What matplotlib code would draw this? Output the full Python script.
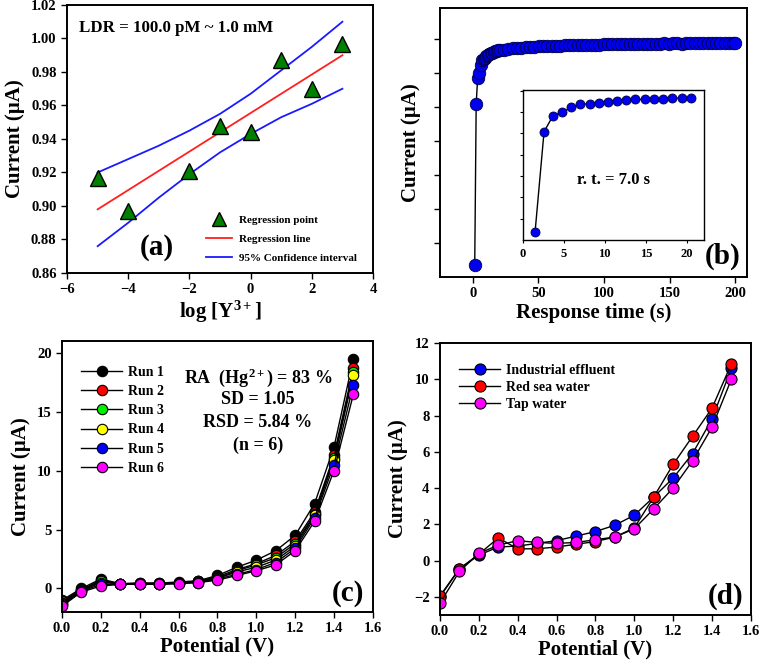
import numpy as np
import matplotlib
matplotlib.use("Agg")
import matplotlib.pyplot as plt
from matplotlib.lines import Line2D

plt.rcParams['font.family'] = ['Liberation Serif', 'DejaVu Serif']
plt.rcParams['font.weight'] = 'bold'
plt.rcParams['axes.labelweight'] = 'bold'
plt.rcParams['mathtext.fontset'] = 'custom'
plt.rcParams['mathtext.rm'] = 'Liberation Serif:bold'
plt.rcParams['mathtext.it'] = 'Liberation Serif:bold'
plt.rcParams['mathtext.bf'] = 'Liberation Serif:bold'

# ---------- Panel (a) data ----------
a_x = [-5, -4, -2, -1, 0, 1, 2, 3]
a_y = [0.917, 0.897, 0.921, 0.948, 0.944, 0.987, 0.970, 0.997]
a_line_x = [-5, 3]
a_line_y = [0.898, 0.990]
a_ci_x = [-5, -4, -3, -2, -1, 0, 1, 2, 3]
a_ci_upper = [0.920, 0.928, 0.936, 0.945, 0.955, 0.967, 0.981, 0.995, 1.010]
a_ci_lower = [0.876, 0.890, 0.905, 0.919, 0.932, 0.943, 0.953, 0.961, 0.970]

# ---------- Panel (b) data ----------
b_inset_t = [1.5, 2.6, 3.7, 4.8, 5.9, 7.0, 8.2, 9.3, 10.4, 11.5, 12.6, 13.7,
             14.9, 16.0, 17.1, 18.2, 19.4, 20.5]
b_inset_i = [0.36, 5.08, 5.83, 5.98, 6.22, 6.36, 6.39, 6.44, 6.48, 6.53, 6.56,
             6.59, 6.59, 6.61, 6.63, 6.64, 6.66, 6.66]
b_late_t = np.round(np.arange(23.8, 200.0, 3.3), 1)
b_late_i = [6.68, 6.70, 6.71, 6.72, 6.73, 6.74, 6.75, 6.76, 6.77, 6.77,
            6.78, 6.78, 6.79, 6.79, 6.80, 6.80, 6.80, 6.81, 6.81, 6.81,
            6.82, 6.82, 6.82, 6.83, 6.83, 6.83, 6.84, 6.83, 6.84, 6.84,
            6.84, 6.85, 6.84, 6.85, 6.85, 6.85, 6.85, 6.86, 6.85, 6.86,
            6.86, 6.85, 6.86, 6.86, 6.86, 6.86, 6.87, 6.86, 6.86, 6.87,
            6.86, 6.86, 6.87, 6.86]
b_end_t = [200.0]
b_end_i = [6.86]

# ---------- Panel (c) data ----------
potential = [0.0, 0.1, 0.2, 0.3, 0.4, 0.5, 0.6, 0.7, 0.8, 0.9, 1.0, 1.1, 1.2, 1.3, 1.4, 1.5]
c_run1 = [-1.0, 0.0, 0.8, 0.4, 0.45, 0.45, 0.55, 0.65, 1.1, 1.8, 2.4, 3.2, 4.5, 7.2, 12.0, 19.5]
c_run2 = [-1.1, -0.1, 0.7, 0.4, 0.45, 0.45, 0.5, 0.6, 1.0, 1.6, 2.1, 2.8, 4.0, 6.5, 11.3, 18.7]
c_run3 = [-1.2, -0.15, 0.6, 0.4, 0.4, 0.4, 0.5, 0.6, 0.9, 1.5, 2.0, 2.6, 3.8, 6.3, 11.1, 18.4]
c_run4 = [-1.3, -0.2, 0.5, 0.4, 0.4, 0.4, 0.45, 0.55, 0.85, 1.4, 1.8, 2.4, 3.6, 6.2, 10.9, 18.1]
c_run5 = [-1.4, -0.25, 0.35, 0.35, 0.35, 0.35, 0.45, 0.5, 0.8, 1.2, 1.6, 2.2, 3.4, 6.0, 10.5, 17.3]
c_run6 = [-1.5, -0.3, 0.2, 0.35, 0.35, 0.35, 0.4, 0.5, 0.7, 1.1, 1.5, 2.0, 3.2, 5.7, 10.0, 16.5]
c_labels = ['Run 1', 'Run 2', 'Run 3', 'Run 4', 'Run 5', 'Run 6']
c_colors = ['#000000', '#ff0000', '#00ee00', '#ffff00', '#0000ff', '#ff00ff']

# ---------- Panel (d) data ----------
d_industrial = [-2.0, -0.45, 0.3, 0.75, 0.8, 0.95, 1.1, 1.35, 1.6, 1.95, 2.5, 3.5, 4.55, 5.9, 7.8, 10.6]
d_redsea = [-1.95, -0.45, 0.35, 1.25, 0.65, 0.65, 0.75, 0.9, 1.05, 1.3, 1.8, 3.5, 5.3, 6.85, 8.4, 10.85]
d_tap = [-2.35, -0.6, 0.4, 0.85, 1.1, 1.0, 0.95, 1.0, 1.15, 1.3, 1.75, 2.85, 4.0, 5.5, 7.35, 10.0]
d_labels = ['Industrial effluent', 'Red sea water', 'Tap water']
d_colors = ['#0000ff', '#ff0000', '#ff00ff']

fig = plt.figure(figsize=(7.6, 6.65), dpi=100)

TICK_FS = 10.5

def style_axes(ax, tick_fs=TICK_FS):
    for s in ax.spines.values():
        s.set_linewidth(1.4)
    ax.tick_params(direction='out', length=4, width=1.0, labelsize=tick_fs)
    for lbl in ax.get_xticklabels() + ax.get_yticklabels():
        lbl.set_fontweight('bold')

# ---------------- (a) ----------------
axa = fig.add_axes([0.0882, 0.5895, 0.4026, 0.403])
axa.plot(a_ci_x, a_ci_upper, color='#1a1aff', lw=1.3, zorder=2)
axa.plot(a_ci_x, a_ci_lower, color='#1a1aff', lw=1.3, zorder=2)
axa.plot(a_line_x, a_line_y, color='#ff2020', lw=1.3, zorder=2)
axa.plot(a_x, a_y, linestyle='none', marker='^', markersize=11,
         markerfacecolor='#008000', markeredgecolor='black', markeredgewidth=1.0, zorder=3)
axa.set_xlim(-6, 4)
axa.set_ylim(0.86, 1.02)
axa.set_xticks([-6, -4, -2, 0, 2, 4])
axa.set_yticks(np.arange(0.86, 1.021, 0.02))
axa.set_yticklabels([f'{v:.2f}' for v in np.arange(0.86, 1.021, 0.02)])
style_axes(axa)
axa.set_xlabel('log [Y$^{3+}$]', fontsize=15, labelpad=2)
axa.set_ylabel('Current (µA)', fontsize=15, labelpad=4)
axa.text(0.04, 0.915, 'LDR = 100.0 pM ~ 1.0 mM', transform=axa.transAxes,
         fontsize=12.2, fontweight='bold', va='center', ha='left')
axa.text(0.295, 0.095, '(a)', transform=axa.transAxes, fontsize=21,
         fontweight='bold', ha='center', va='center')
handles_a = [
    Line2D([], [], linestyle='none', marker='^', markersize=10,
           markerfacecolor='#008000', markeredgecolor='black'),
    Line2D([], [], color='#ff2020', lw=1.3),
    Line2D([], [], color='#1a1aff', lw=1.3),
]
axa.legend(handles_a, ['Regression point', 'Regression line', '95% Confidence interval'],
           loc='lower left', bbox_to_anchor=(0.42, 0.0), frameon=False,
           prop={'size': 8, 'weight': 'bold'}, handlelength=2.4,
           labelspacing=0.85, handletextpad=0.6)

# ---------------- (b) ----------------
axb = fig.add_axes([0.5789, 0.5835, 0.404, 0.4045])
b_t = list(b_inset_t) + list(b_late_t) + b_end_t
b_i = list(b_inset_i) + list(b_late_i) + b_end_i
axb.plot(b_t, b_i, color='black', lw=1.0, zorder=2)
axb.plot(b_t, b_i, linestyle='none', marker='o', markersize=9,
         markerfacecolor='#0000ee', markeredgecolor='#000040', markeredgewidth=0.6, zorder=3)
axb.set_xlim(-25, 209)
axb.set_ylim(0, 7.9)
axb.set_xticks([0, 50, 100, 150, 200])
axb.set_yticks([1, 2, 3, 4, 5, 6, 7])
axb.set_yticklabels([])
style_axes(axb)
axb.set_xlabel('Response time (s)', fontsize=15, labelpad=2)
axb.set_ylabel('Current (µA)', fontsize=15, labelpad=6)
axb.text(0.92, 0.075, '(b)', transform=axb.transAxes, fontsize=21,
         fontweight='bold', ha='center', va='center')

axi = fig.add_axes([0.6878, 0.639, 0.2386, 0.2256])
axi.plot(b_inset_t, b_inset_i, color='black', lw=1.0, zorder=2)
axi.plot(b_inset_t, b_inset_i, linestyle='none', marker='o', markersize=6.5,
         markerfacecolor='#0000ee', markeredgecolor='#000040', markeredgewidth=0.6, zorder=3)
axi.set_xlim(0, 22.1)
axi.set_ylim(0, 7.03)
axi.set_xticks([0, 5, 10, 15, 20])
axi.set_yticks([1, 2, 3, 4, 5, 6, 7])
axi.set_yticklabels([])
for s in axi.spines.values():
    s.set_linewidth(1.0)
axi.tick_params(direction='out', length=2.5, width=0.8, labelsize=9)
for lbl in axi.get_xticklabels():
    lbl.set_fontweight('bold')
axi.text(0.5, 0.4, 'r. t. = 7.0 s', transform=axi.transAxes, fontsize=12,
         fontweight='bold', ha='center', va='center')

# ---------------- (c) ----------------
axc = fig.add_axes([0.0816, 0.0797, 0.409, 0.4075])
c_runs = [c_run1, c_run2, c_run3, c_run4, c_run5, c_run6]
for vals, col, lab in zip(c_runs, c_colors, c_labels):
    axc.plot(potential, vals, color='black', lw=1.0, marker='o', markersize=7.5,
             markerfacecolor=col, markeredgecolor='black', markeredgewidth=0.8, label=lab)
axc.set_xlim(0, 1.6)
axc.set_ylim(-2, 21)
axc.set_xticks(np.arange(0, 1.61, 0.2))
axc.set_xticklabels([f'{v:.1f}' for v in np.arange(0, 1.61, 0.2)])
axc.set_yticks([0, 5, 10, 15, 20])
style_axes(axc)
axc.set_xlabel('Potential (V)', fontsize=15, labelpad=1)
axc.set_ylabel('Current (µA)', fontsize=15, labelpad=4)
axc.legend(loc='upper left', bbox_to_anchor=(0.02, 0.955), frameon=False,
           prop={'size': 10, 'weight': 'bold'}, handlelength=3.0,
           labelspacing=0.45, handletextpad=0.4)
dy = 0.03
axc.text(0.63, 0.895 - dy, 'RA  (Hg$^{2+}$) = 83 %', transform=axc.transAxes,
         fontsize=13, fontweight='bold', ha='center', va='center')
axc.text(0.63, 0.815 - dy, 'SD = 1.05', transform=axc.transAxes,
         fontsize=13, fontweight='bold', ha='center', va='center')
axc.text(0.63, 0.73 - dy, 'RSD = 5.84 %', transform=axc.transAxes,
         fontsize=13, fontweight='bold', ha='center', va='center')
axc.text(0.63, 0.645 - dy, '(n = 6)', transform=axc.transAxes,
         fontsize=13, fontweight='bold', ha='center', va='center')
axc.text(0.92, 0.07, '(c)', transform=axc.transAxes, fontsize=21,
         fontweight='bold', ha='center', va='center')

# ---------------- (d) ----------------
axd = fig.add_axes([0.5789, 0.0752, 0.409, 0.409])
for vals, col, lab in zip([d_industrial, d_redsea, d_tap], d_colors, d_labels):
    axd.plot(potential, vals, color='black', lw=1.0, marker='o', markersize=8,
             markerfacecolor=col, markeredgecolor='black', markeredgewidth=0.8, label=lab)
axd.set_xlim(0, 1.6)
axd.set_ylim(-3, 12)
axd.set_xticks(np.arange(0, 1.61, 0.2))
axd.set_xticklabels([f'{v:.1f}' for v in np.arange(0, 1.61, 0.2)])
axd.set_yticks(np.arange(-2, 12.1, 2))
style_axes(axd)
axd.set_xlabel('Potential (V)', fontsize=15, labelpad=1)
axd.set_ylabel('Current (µA)', fontsize=15, labelpad=4)
axd.legend(loc='upper left', bbox_to_anchor=(0.02, 0.97), frameon=False,
           prop={'size': 10, 'weight': 'bold'}, handlelength=3.0,
           labelspacing=0.3, handletextpad=0.4)
axd.text(0.92, 0.07, '(d)', transform=axd.transAxes, fontsize=21,
         fontweight='bold', ha='center', va='center')

fig.savefig('out.png', dpi=100)
